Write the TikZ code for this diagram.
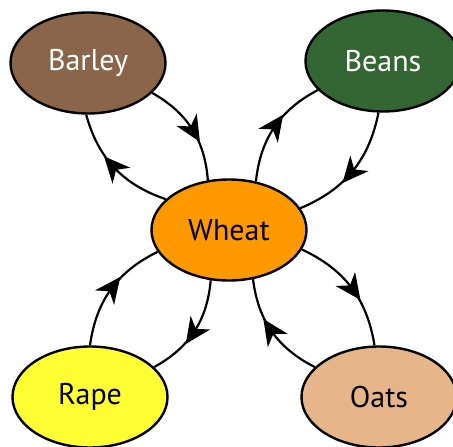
\documentclass[tikz,border=0pt]{standalone}
\usepackage{fontspec}
\setmainfont{PT Sans}
\usetikzlibrary{shapes.geometric,decorations.markings}
\definecolor{barleyc}{HTML}{8B6549}
\definecolor{beansc}{HTML}{336633}
\definecolor{wheatc}{HTML}{FF9900}
\definecolor{rapec}{HTML}{FFFF33}
\definecolor{oatsc}{HTML}{E6B68A}
\tikzset{
  crop/.style={ellipse, draw=black, line width=2.4pt, inner sep=0pt,
    minimum width=155pt, minimum height=101pt, font=\fontsize{30}{30}\selectfont},
  flow/.style={line width=2.2pt, bend left=28,
    postaction={decorate},
    decoration={markings, mark=at position 0.52 with {
      \fill[black] (13pt,0pt) -- (-13pt,12pt) -- (-5pt,0pt) -- (-13pt,-12pt) -- cycle;}}}
}
\begin{document}
\begin{tikzpicture}[x=1pt,y=-1pt]
\useasboundingbox (0,0) rectangle (453,447);
\clip (0,0) rectangle (453,447);
\node[crop, fill=barleyc, text=white] (barley) at (88,63) {Barley};
\node[crop, fill=beansc, text=white] (beans) at (383,61) {Beans};
\node[crop, fill=wheatc] (wheat) at (229,230) {Wheat};
\node[crop, fill=rapec] (rape) at (90,397) {Rape};
\node[crop, fill=oatsc] (oats) at (379,397) {Oats};
\draw[flow] (barley.-25) to (wheat.113);
\draw[flow] (wheat.154) to (barley.-92);
\draw[flow] (wheat.61) to (beans.-156);
\draw[flow] (beans.-95) to (wheat.17);
\draw[flow] (wheat.-15) to (oats.95);
\draw[flow] (oats.155) to (wheat.-64);
\draw[flow] (rape.90) to (wheat.-163);
\draw[flow] (wheat.-110) to (rape.25);
\end{tikzpicture}
\end{document}
